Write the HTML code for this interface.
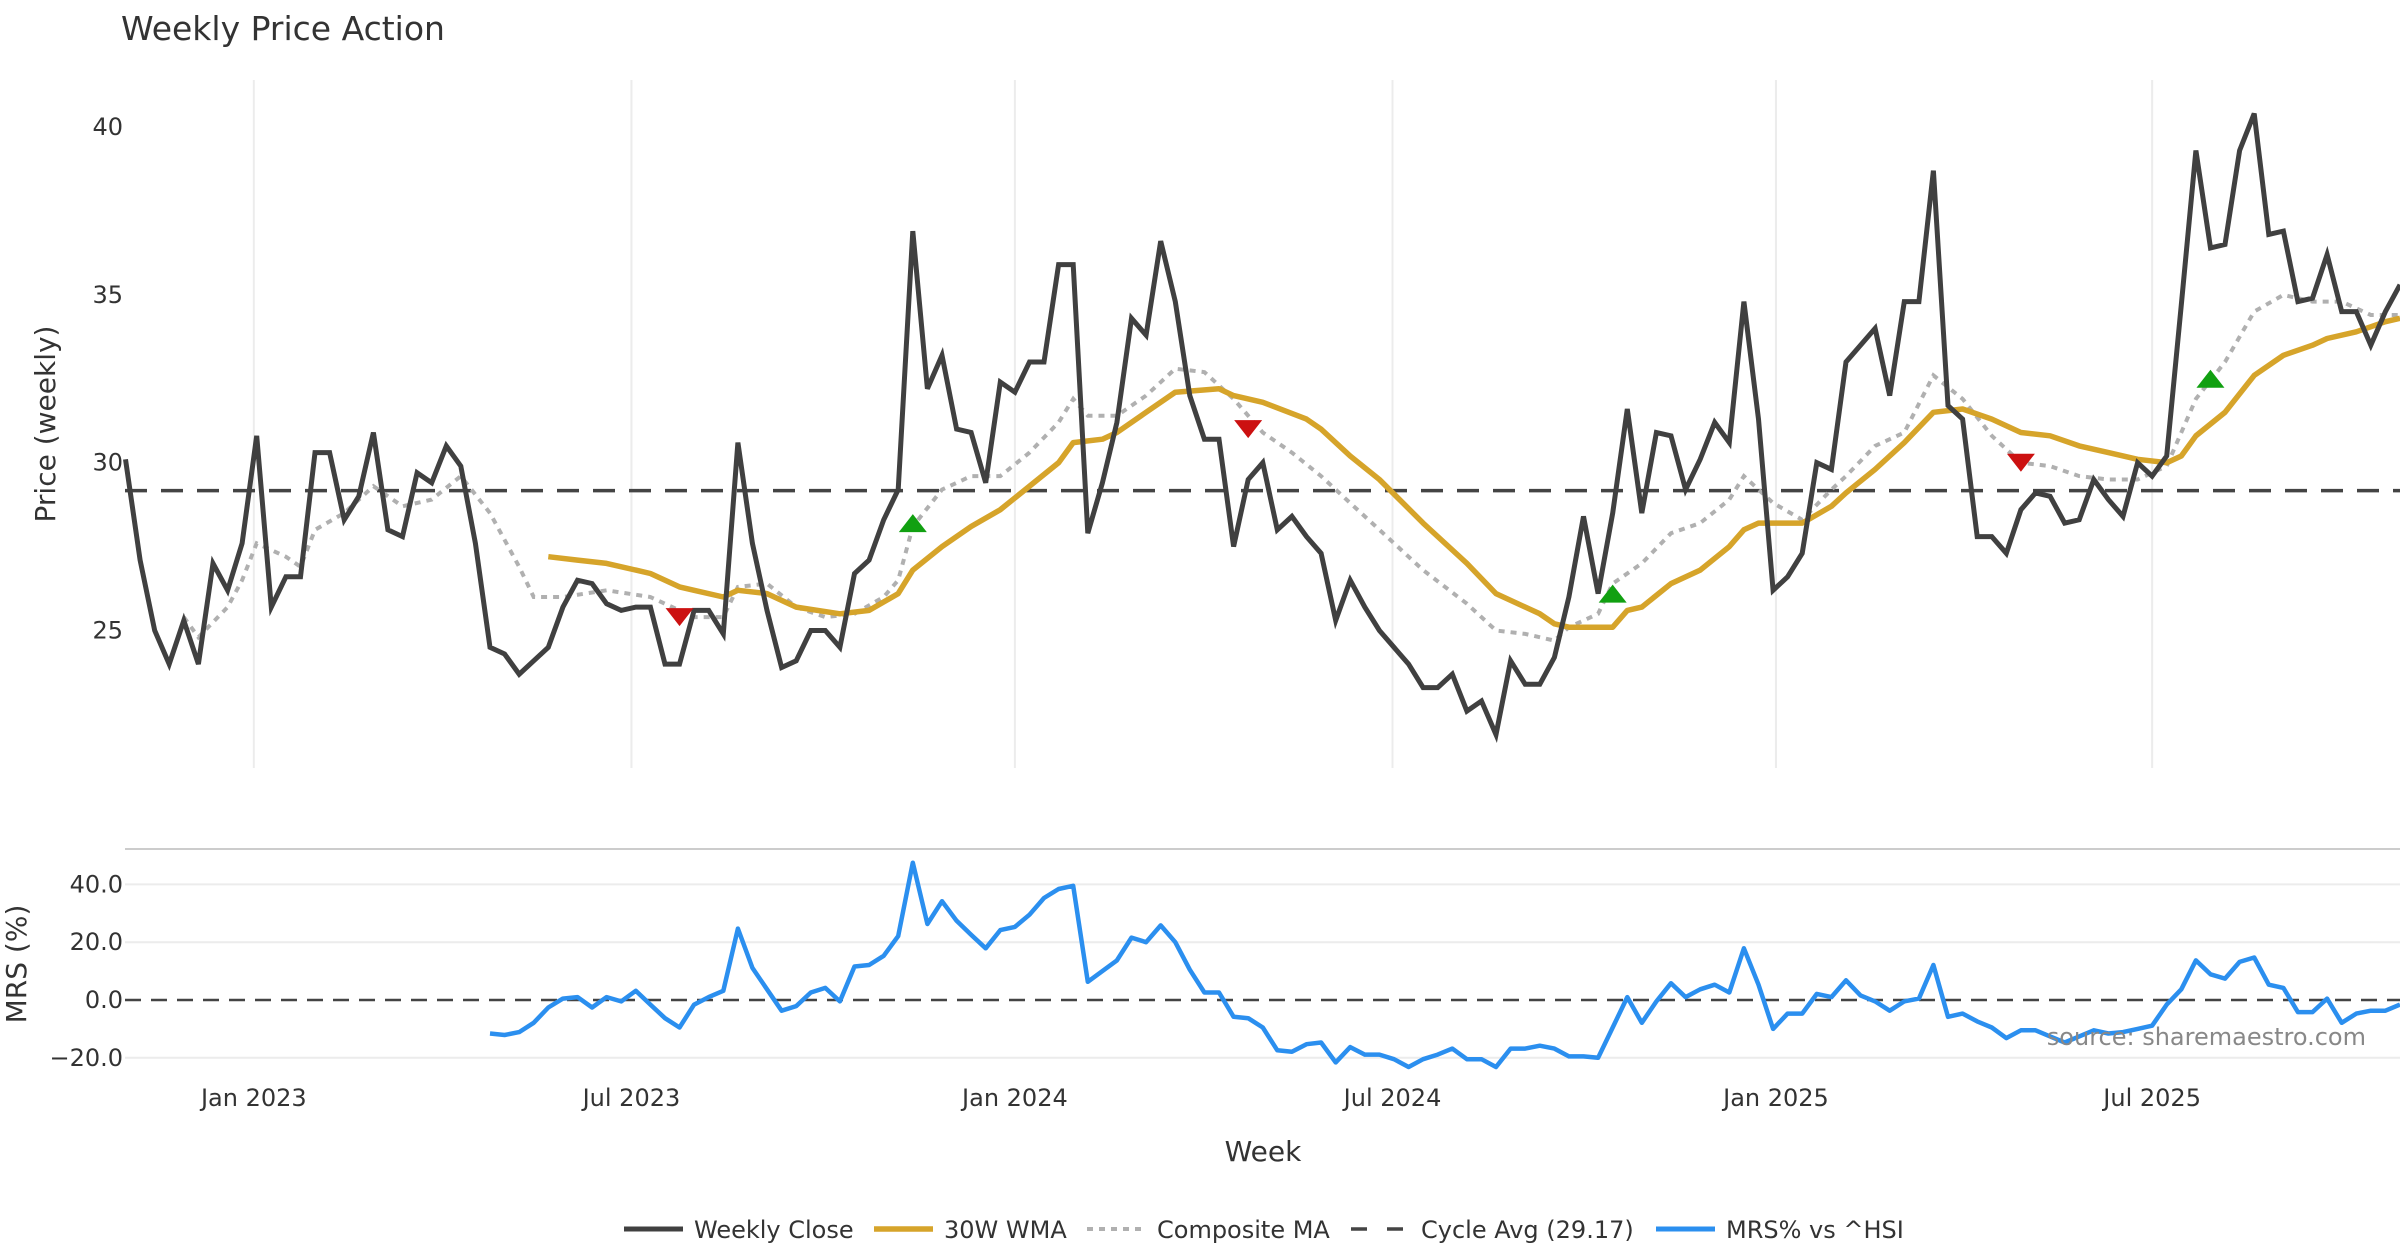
<!DOCTYPE html>
<html><head><meta charset="utf-8"><style>
html,body{margin:0;padding:0;background:#fff;}
svg{display:block;font-family:"DejaVu Sans","Liberation Sans",sans-serif;}
</style></head><body>
<svg id="chart" width="2400" height="1260" viewBox="0 0 2400 1260" xmlns="http://www.w3.org/2000/svg">
<text x="121" y="40" font-size="33" fill="#333">Weekly Price Action</text>
<text transform="translate(55,424) rotate(-90)" text-anchor="middle" font-size="28" fill="#333">Price (weekly)</text>
<text transform="translate(26,964) rotate(-90)" text-anchor="middle" font-size="28" fill="#333">MRS (%)</text>
<text x="1263" y="1161" text-anchor="middle" font-size="28" fill="#333">Week</text>
<line x1="125" y1="849" x2="2400" y2="849" stroke="#ccc" stroke-width="2"/>
<g id="grid"></g><g id="ticks"></g><g id="series"></g>
<text x="2366" y="1045" text-anchor="end" font-size="24" fill="#888">source: sharemaestro.com</text>
<g id="legend"></g>
</svg>
<script>
const closeVals=[30.1,27.1,25.0,24.0,25.3,24.0,27.0,26.2,27.6,30.8,25.7,26.6,26.6,30.3,30.3,28.3,29.0,30.9,28.0,27.8,29.7,29.4,30.5,29.9,27.6,24.5,24.3,23.7,24.1,24.5,25.7,26.5,26.4,25.8,25.6,25.7,25.7,24.0,24.0,25.6,25.6,24.9,30.6,27.6,25.6,23.9,24.1,25.0,25.0,24.5,26.7,27.1,28.3,29.2,36.9,32.2,33.2,31.0,30.9,29.4,32.4,32.1,33.0,33.0,35.9,35.9,27.9,29.4,31.2,34.3,33.8,36.6,34.8,32.0,30.7,30.7,27.5,29.5,30.0,28.0,28.4,27.8,27.3,25.3,26.5,25.7,25.0,24.5,24.0,23.3,23.3,23.7,22.6,22.9,21.9,24.1,23.4,23.4,24.2,26.0,28.4,26.1,28.5,31.6,28.5,30.9,30.8,29.2,30.1,31.2,30.6,34.8,31.3,26.2,26.6,27.3,30.0,29.8,33.0,33.5,34.0,32.0,34.8,34.8,38.7,31.7,31.3,27.8,27.8,27.3,28.6,29.1,29.0,28.2,28.3,29.5,28.9,28.4,30.0,29.6,30.2,34.7,39.3,36.4,36.5,39.3,40.4,36.8,36.9,34.8,34.9,36.2,34.5,34.5,33.5,34.5,35.3];
const wmaWeeks=[29,31,33,35,36,38,39,41,42,44,46,49,51,53,54,56,58,60,62,64,65,67,68,70,72,75,76,78,81,82,84,86,89,92,94,97,98,99,101,102,103,104,106,108,110,111,112,114,115,117,118,120,122,124,126,128,130,132,134,136,138,140,141,142,144,146,148,150,151,153,155,156];
const wmaVals=[27.2,27.1,27.0,26.8,26.7,26.3,26.2,26.0,26.2,26.1,25.7,25.5,25.6,26.1,26.8,27.5,28.1,28.6,29.3,30.0,30.6,30.7,30.9,31.5,32.1,32.2,32.0,31.8,31.3,31.0,30.2,29.5,28.2,27.0,26.1,25.5,25.2,25.1,25.1,25.1,25.6,25.7,26.4,26.8,27.5,28.0,28.2,28.2,28.2,28.7,29.1,29.8,30.6,31.5,31.6,31.3,30.9,30.8,30.5,30.3,30.1,30.0,30.2,30.8,31.5,32.6,33.2,33.5,33.7,33.9,34.2,34.3];
const compWeeks=[4,5,7,8,9,11,12,13,15,17,19,21,23,25,27,28,30,33,36,38,39,41,42,44,46,48,50,52,53,54,56,58,60,62,64,65,66,68,70,72,74,76,78,80,82,84,86,89,92,94,96,98,99,101,102,104,106,108,110,111,113,115,117,118,120,122,124,126,128,130,132,134,136,138,140,142,144,146,148,150,152,154,156];
const compVals=[25.4,24.8,25.7,26.5,27.6,27.2,26.9,28.0,28.5,29.3,28.7,28.9,29.6,28.5,26.9,26.0,26.0,26.2,26.0,25.6,25.4,25.4,26.3,26.4,25.7,25.4,25.5,26.0,26.5,28.1,29.2,29.6,29.6,30.3,31.2,31.9,31.4,31.4,32.0,32.8,32.7,31.9,30.9,30.3,29.6,28.8,28.0,26.8,25.8,25.0,24.9,24.7,25.1,25.5,26.4,27.0,27.9,28.2,28.9,29.6,28.8,28.3,29.2,29.6,30.5,30.9,32.6,31.9,30.8,30.0,29.9,29.6,29.5,29.5,29.9,31.9,33.0,34.5,35.0,34.8,34.8,34.4,34.4];
const cycleAvg=29.17;
const mrsStart=25;
const mrsVals=[-11.6,-12.1,-11.1,-7.9,-2.6,0.5,1.0,-2.6,1.0,-0.5,3.2,-1.6,-6.3,-9.5,-1.6,1.0,3.2,24.7,11.1,3.7,-3.7,-2.1,2.6,4.2,-0.5,11.6,12.1,15.3,22.1,47.5,26.3,34.2,27.4,22.6,17.9,24.2,25.3,29.5,35.3,38.4,39.5,6.3,10.0,13.7,21.6,20.0,25.8,20.0,10.5,2.6,2.6,-5.8,-6.3,-9.5,-17.4,-17.9,-15.3,-14.7,-21.6,-16.3,-18.9,-18.9,-20.5,-23.2,-20.5,-18.9,-16.8,-20.5,-20.5,-23.2,-16.8,-16.8,-15.8,-16.8,-19.5,-19.5,-20.0,-9.5,1.0,-7.9,-0.5,5.8,1.0,3.7,5.3,2.6,17.9,5.3,-10.0,-4.7,-4.7,2.1,1.0,6.8,1.6,-0.5,-3.7,-0.5,0.5,12.1,-5.8,-4.7,-7.4,-9.5,-13.2,-10.5,-10.5,-12.6,-14.7,-12.6,-10.5,-11.6,-11.1,-10.0,-8.9,-1.6,3.7,13.7,8.9,7.4,13.2,14.7,5.3,4.2,-4.2,-4.2,0.5,-7.9,-4.7,-3.7,-3.7,-1.6];
const sellWeeks=[38,77,130];
const sellVals=[25.4,31.0,30.0];
const buyWeeks=[54,102,143];
const buyVals=[28.2,26.1,32.5];
const priceTicks=[25,30,35,40];
const mrsTicks=[-20,0,20,40];
const mrsTickLabels=["\u221220.0","0.0","20.0","40.0"];
const dateLabels=["Jan 2023","Jul 2023","Jan 2024","Jul 2024","Jan 2025","Jul 2025"];
const dateWeeks=[8.8,34.7,61.0,86.9,113.2,139.0];

const NS="http://www.w3.org/2000/svg";
const X0=125.5,X1=2400,NW=156;
const xs=i=>X0+(X1-X0)*i/NW;
const yp=v=>127+(40-v)*33.57;
const ym=v=>1000-v*2.89;
function mk(parent,tag,attrs){const e=document.createElementNS(NS,tag);for(const k in attrs)e.setAttribute(k,attrs[k]);document.getElementById(parent).appendChild(e);return e;}
function pts(ws,vs,yf){return ws.map((w,i)=>xs(w).toFixed(1)+","+yf(vs[i]).toFixed(1)).join(" ");}

// grid
dateWeeks.forEach((w,i)=>{
  let g=mk('grid','line',{x1:xs(w),x2:xs(w),y1:80,y2:768,stroke:'#ececec','stroke-width':2});
  
  
  let t=mk('ticks','text',{x:xs(w),y:1106,'text-anchor':'middle','font-size':24,fill:'#333'});
  t.textContent=dateLabels[i];
  
  
});
mrsTicks.forEach((v,i)=>{
  if(v!==0){let g=mk('grid','line',{x1:125,x2:2400,y1:ym(v),y2:ym(v),stroke:'#ececec','stroke-width':2});
  
  }
  let t=mk('ticks','text',{x:123,y:ym(v)+8,'text-anchor':'end','font-size':24,fill:'#333'});
  t.textContent=mrsTickLabels[i];
  
  
});
priceTicks.forEach(v=>{
  let t=mk('ticks','text',{x:123,y:yp(v)+8,'text-anchor':'end','font-size':24,fill:'#333'});
  t.textContent=String(v);
  
  
});
// series
const allW=closeVals.map((_,i)=>i);
let l;
l=mk('series','line',{x1:125,x2:2400,y1:yp(cycleAvg),y2:yp(cycleAvg),stroke:'#444','stroke-width':3.5,'stroke-dasharray':'22 14'});


l=mk('series','polyline',{points:pts(compWeeks,compVals,yp),fill:'none',stroke:'#b0b0b0','stroke-width':4,'stroke-dasharray':'6 6'});


l=mk('series','polyline',{points:pts(wmaWeeks,wmaVals,yp),fill:'none',stroke:'#d6a42a','stroke-width':5.5,'stroke-linejoin':'round'});


l=mk('series','polyline',{points:pts(allW,closeVals,yp),fill:'none',stroke:'#404040','stroke-width':5,'stroke-linejoin':'miter'});


sellWeeks.forEach((w,i)=>{const x=xs(w),y=yp(sellVals[i]);
  let p=mk('series','polygon',{points:`${x-14},${y-9} ${x+14},${y-9} ${x},${y+9}`,fill:'#cc1111'});
  
  });
buyWeeks.forEach((w,i)=>{const x=xs(w),y=yp(buyVals[i]);
  let p=mk('series','polygon',{points:`${x-14},${y+9} ${x+14},${y+9} ${x},${y-9}`,fill:'#11a011'});
  
  });
l=mk('series','line',{x1:125,x2:2400,y1:ym(0),y2:ym(0),stroke:'#444','stroke-width':2.5,'stroke-dasharray':'16 10'});


l=mk('series','polyline',{points:pts(mrsVals.map((_,i)=>mrsStart+i),mrsVals,ym),fill:'none',stroke:'#2b8fef','stroke-width':4.5,'stroke-linejoin':'round'});


// legend
const legItems=[["Weekly Close",624,'#404040',5,''],["30W WMA",874,'#d6a42a',5.5,''],["Composite MA",1087,'#b0b0b0',4,'6 6'],["Cycle Avg (29.17)",1351,'#444',3.5,'16 20'],["MRS% vs ^HSI",1656,'#2b8fef',5,'']];
legItems.forEach(it=>{
  let a={x1:it[1],x2:it[1]+59,y1:1229,y2:1229,stroke:it[2],'stroke-width':it[3]};
  if(it[4])a['stroke-dasharray']=it[4];
  let s=mk('legend','line',a);
  
  
  let t=mk('legend','text',{x:it[1]+70,y:1238,'font-size':24,fill:'#333'});
  t.textContent=it[0];
  
  
});
</script>
</body></html>
